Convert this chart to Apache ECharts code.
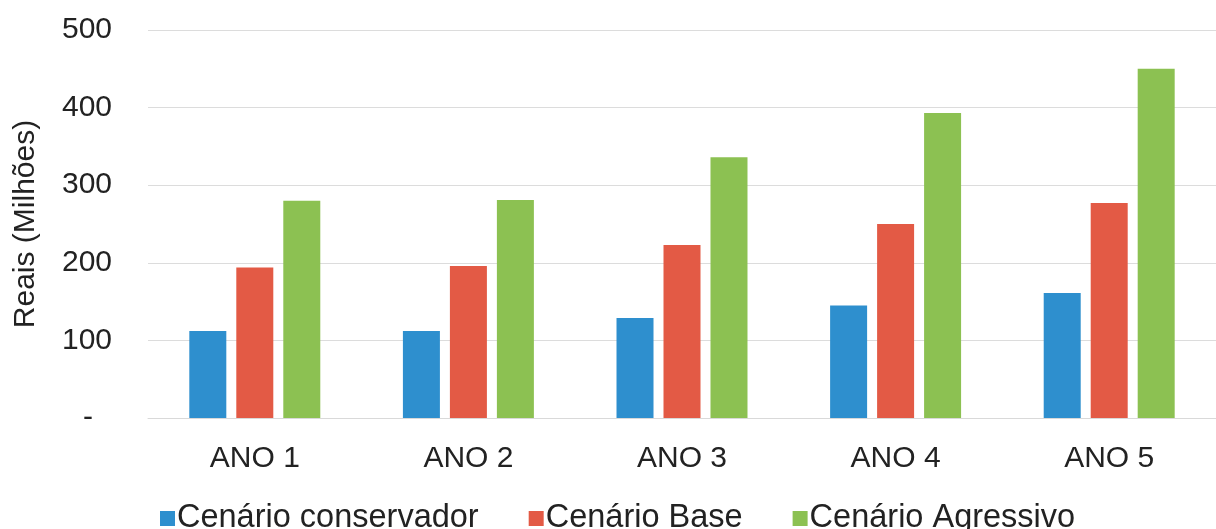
<!DOCTYPE html>
<html>
<head>
<meta charset="utf-8">
<script src="https://cdn.jsdelivr.net/npm/echarts@6/dist/echarts.min.js"></script>
<style>
  html, body { margin: 0; padding: 0; background: #fff; }
  #chart { width: 1216px; height: 529px; }
</style>
</head>
<body>
<div id="chart"></div>
<script>
// Receita projetada por cenário (R$ milhões)
const categories = ['ANO 1', 'ANO 2', 'ANO 3', 'ANO 4', 'ANO 5'];
const seriesNames = ['Cenário conservador', 'Cenário Base', 'Cenário Agressivo'];
const conservador = [112, 112, 129, 145, 161];
const base = [194, 196, 223, 250, 277];
const agressivo = [280, 281, 336, 393, 450];
const colors = ['#2e8fce', '#e35a45', '#8cc152'];

const FONT = '"Liberation Sans", Arial, sans-serif';
const chart = echarts.init(document.getElementById('chart'));

const mkSeries = (name, data, i) => ({
  name: name,
  type: 'bar',
  data: data,
  barWidth: 37,
  barGap: '27%',
  itemStyle: { color: colors[i] }
});

chart.setOption({
  animation: false,
  color: colors,
  grid: { left: 148, top: 30, width: 1080, height: 388, containLabel: false },
  legend: {
    left: 160,
    top: 502,
    padding: 0,
    itemWidth: 15,
    itemHeight: 15,
    itemGap: 50,
    icon: 'rect',
    textStyle: { fontFamily: FONT, fontSize: 32.5, color: '#222', padding: [0, 0, 0, -3] },
    data: seriesNames
  },
  xAxis: {
    type: 'category',
    data: categories,
    axisTick: { show: false },
    axisLine: { lineStyle: { color: '#d9d9d9', width: 1 } },
    axisLabel: { fontFamily: FONT, fontSize: 30, color: '#222', margin: 26 }
  },
  yAxis: {
    type: 'value',
    min: 0,
    max: 500,
    interval: 100,
    name: 'Reais (Milhões)',
    nameLocation: 'middle',
    nameGap: 107,
    nameRotate: 90,
    nameTextStyle: { fontFamily: FONT, fontSize: 30, color: '#222' },
    axisLine: { show: false },
    axisTick: { show: false },
    splitLine: { lineStyle: { color: '#dcdcdc', width: 1 } },
    axisLabel: {
      fontFamily: FONT,
      fontSize: 30,
      color: '#222',
      margin: 36,
      formatter: v => (v === 0 ? '{z|-}' : String(v)),
      rich: { z: { fontFamily: FONT, fontSize: 30, color: '#222', padding: [0, 19, 0, 0] } }
    }
  },
  series: [
    mkSeries(seriesNames[0], conservador, 0),
    mkSeries(seriesNames[1], base, 1),
    mkSeries(seriesNames[2], agressivo, 2)
  ]
});
</script>
</body>
</html>
